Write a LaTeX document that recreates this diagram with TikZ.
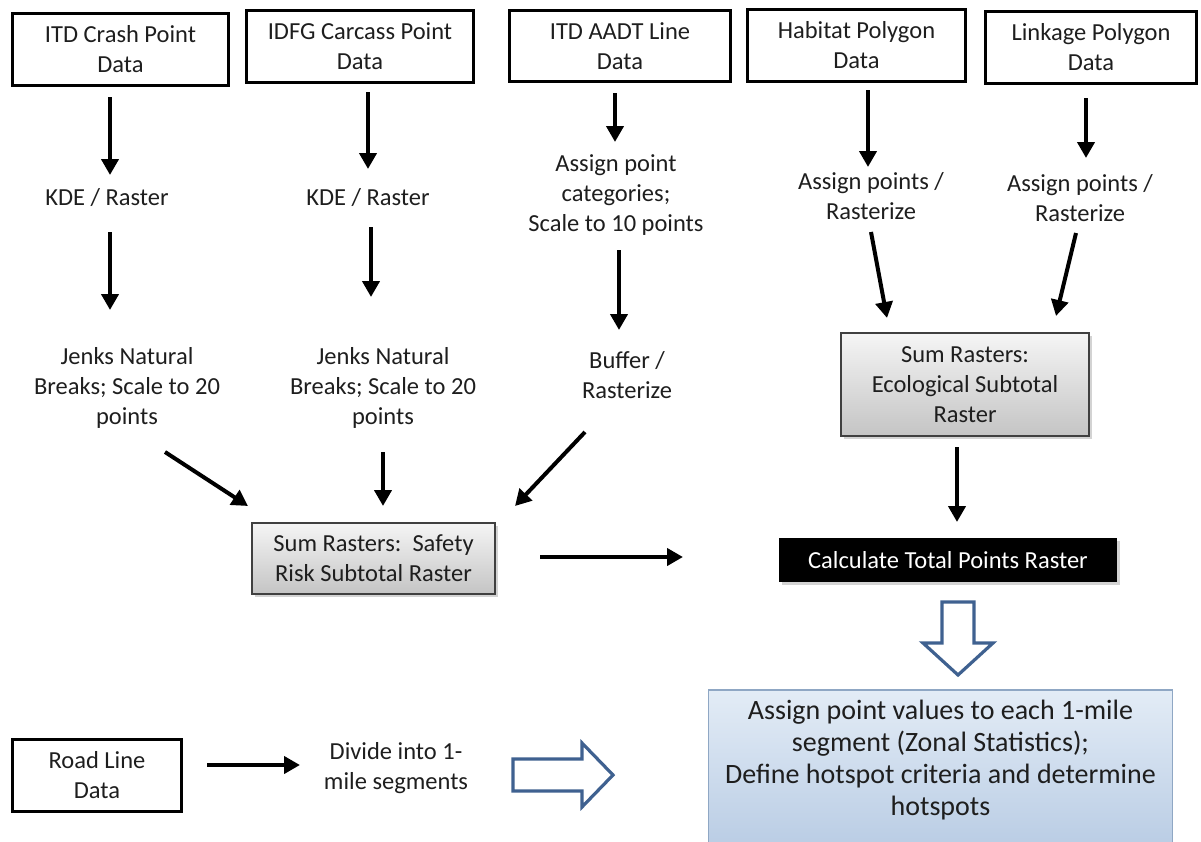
\documentclass[tikz,border=0pt]{standalone}
\usepackage{fontspec}
\setmainfont{Carlito}
\usetikzlibrary{arrows.meta,shadows}
\definecolor{hollowblue}{HTML}{3F6190}
\definecolor{bluetop}{HTML}{E3ECF6}
\definecolor{bluebot}{HTML}{B6CAE3}
\definecolor{blueedge}{HTML}{8FA7C4}
\definecolor{txt}{HTML}{1E1E1E}
\begin{document}
\begin{tikzpicture}[x=1pt,y=-1pt,
  font=\fontsize{24.5}{30}\selectfont, text=txt,
  databox/.style={draw=black, line width=3.7pt, inner sep=0pt, align=center},
  lbl/.style={align=center, inner sep=0pt},
  graybox/.style={draw=black!75, line width=1.6pt, inner sep=0pt, align=center,
    top color=black!4, bottom color=black!23,
    drop shadow={shadow xshift=2.5pt, shadow yshift=-2.5pt, opacity=0.35}},
  blackbox/.style={fill=black, text=white, inner sep=0pt, align=center,
    drop shadow={shadow xshift=2.5pt, shadow yshift=-2.5pt, opacity=0.35}},
  arr/.style={line width=4pt, -{Triangle[length=16pt,width=17pt]}},
  hollow/.style={draw=hollowblue, line width=3.2pt, fill=white, line join=miter}
]
\useasboundingbox (0,0) rectangle (1201,841);

% top data boxes
\node[databox, minimum width=216, minimum height=72] (crash) at (120.5,49.5) {ITD Crash Point\\Data};
\node[databox, minimum width=227, minimum height=72] (carcass) at (360,46.5) {IDFG Carcass Point\\Data};
\node[databox, minimum width=221, minimum height=71] (aadt) at (620,46) {ITD AADT Line\\Data};
\node[databox, minimum width=218, minimum height=72] (habitat) at (856.5,45.5) {Habitat Polygon\\Data};
\node[databox, minimum width=211, minimum height=72] (linkage) at (1091,47.5) {Linkage Polygon\\Data};

% intermediate texts
\node[lbl] (kde1) at (107,198) {KDE / Raster};
\node[lbl] (kde2) at (368,198) {KDE / Raster};
\node[lbl] (jenks1) at (127,388) {Jenks Natural\\Breaks; Scale to 20\\points};
\node[lbl] (jenks2) at (383,388) {Jenks Natural\\Breaks; Scale to 20\\points};
\node[lbl] (assign3) at (616,195) {Assign point\\categories;\\Scale to 10 points};
\node[lbl] (buffer) at (627,375) {Buffer /\\Rasterize};
\node[lbl] (assign4) at (871,196) {Assign points /\\Rasterize};
\node[lbl] (assign5) at (1080,198) {Assign points /\\Rasterize};

% subtotal boxes
\node[graybox, minimum width=248, minimum height=103] (eco) at (965,384.5) {Sum Rasters:\\Ecological Subtotal\\Raster};
\node[graybox, minimum width=243, minimum height=71] (safety) at (373.5,558.5) {Sum Rasters:~~Safety\\Risk Subtotal Raster};
\node[blackbox, minimum width=338, minimum height=44] (total) at (948,560) {Calculate Total Points Raster};

% final blue box
\node[draw=blueedge, line width=1.4pt, top color=bluetop, bottom color=bluebot,
      minimum width=464, minimum height=170, inner sep=0pt] (final) at (940.5,775) {};
\node[lbl, font=\fontsize{28}{32}\selectfont] (finaltext) at (940.5,760)
  {Assign point values to each 1-mile\\segment (Zonal Statistics);\\Define hotspot criteria and determine\\hotspots};

% road line
\node[databox, minimum width=169, minimum height=72] (road) at (97,775.5) {Road Line\\Data};
\node[lbl] (divide) at (396,768) {Divide into 1-\\mile segments};

% connector end points
\coordinate (a1s) at (110,97);  \coordinate (a1e) at (110,175);
\coordinate (a2s) at (110,232); \coordinate (a2e) at (110,310);
\coordinate (b1s) at (368,92);  \coordinate (b1e) at (368,169);
\coordinate (b2s) at (371,227); \coordinate (b2e) at (371,297);
\coordinate (c1s) at (615,93);  \coordinate (c1e) at (615,142);
\coordinate (c2s) at (619,250); \coordinate (c2e) at (619,330);
\coordinate (d1s) at (868,90);  \coordinate (d1e) at (868,167);
\coordinate (d2s) at (871,232); \coordinate (d2e) at (887,318);
\coordinate (e1s) at (1086,98); \coordinate (e1e) at (1086,158);
\coordinate (e2s) at (1076,233);\coordinate (e2e) at (1056,316);
\coordinate (s1s) at (165,452); \coordinate (s1e) at (248,506);
\coordinate (s2s) at (383,452); \coordinate (s2e) at (383,506);
\coordinate (s3s) at (585,432); \coordinate (s3e) at (515,506);
\coordinate (hs) at (540,557);  \coordinate (he) at (683,557);
\coordinate (ecos) at (957,447);\coordinate (ecoe) at (957,522);
\coordinate (rs) at (207,765);  \coordinate (re) at (300,765);

\draw[arr] (a1s) -- (a1e);
\draw[arr] (a2s) -- (a2e);
\draw[arr] (b1s) -- (b1e);
\draw[arr] (b2s) -- (b2e);
\draw[arr] (c1s) -- (c1e);
\draw[arr] (c2s) -- (c2e);
\draw[arr] (d1s) -- (d1e);
\draw[arr] (d2s) -- (d2e);
\draw[arr] (e1s) -- (e1e);
\draw[arr] (e2s) -- (e2e);
\draw[arr] (s1s) -- (s1e);
\draw[arr] (s2s) -- (s2e);
\draw[arr] (s3s) -- (s3e);
\draw[arr] (hs) -- (he);
\draw[arr] (ecos) -- (ecoe);
\draw[arr] (rs) -- (re);

% hollow block arrows
\draw[hollow] (942,602) -- (974,602) -- (974,643) -- (993,643) -- (958,675) -- (923,643) -- (942,643) -- cycle;
\draw[hollow] (513,759) -- (582,759) -- (582,743) -- (613,775) -- (582,807) -- (582,791) -- (513,791) -- cycle;
\end{tikzpicture}
\end{document}
